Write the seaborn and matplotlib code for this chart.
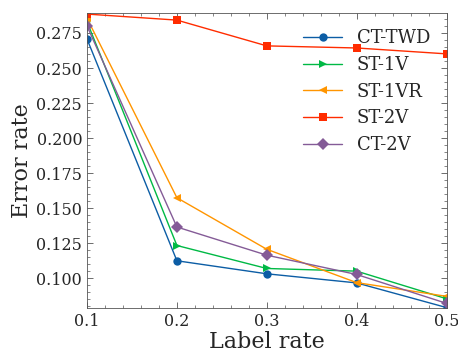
import numpy as np
import pandas as pd
import matplotlib
matplotlib.use("Agg")
import matplotlib.pyplot as plt
import seaborn as sns

label_rate = [0.1, 0.2, 0.3, 0.4, 0.5]
series_names = ["CT-TWD", "ST-1V", "ST-1VR", "ST-2V", "CT-2V"]
ct_twd = [0.2707, 0.1124, 0.1031, 0.0966, 0.0790]
st_1v = [0.2830, 0.1233, 0.1069, 0.1050, 0.0853]
st_1vr = [0.2855, 0.1574, 0.1206, 0.0968, 0.0870]
st_2v = [0.2885, 0.2842, 0.2658, 0.2643, 0.2601]
ct_2v = [0.2800, 0.1365, 0.1164, 0.1026, 0.0820]

colors = ["#0C5DA5", "#00B945", "#FF9500", "#FF2C00", "#845B97"]
markers = ["o", ">", "<", "s", "D"]

rows = []
for name, vals in zip(series_names, [ct_twd, st_1v, st_1vr, st_2v, ct_2v]):
    for x, y in zip(label_rate, vals):
        rows.append({"Label rate": x, "Error rate": y, "Method": name})
df = pd.DataFrame(rows)

sns.set_style("ticks")
plt.rcParams["font.family"] = ["DejaVu Serif"]
plt.rcParams["mathtext.fontset"] = "dejavuserif"

fig, ax = plt.subplots(figsize=(4.58, 3.54), dpi=100)
sns.lineplot(data=df, x="Label rate", y="Error rate", hue="Method", style="Method",
             hue_order=series_names, style_order=series_names,
             palette=colors, markers=markers, dashes=False,
             linewidth=1.0, markersize=6, markeredgewidth=0, ax=ax)

ax.set_xlim(0.1, 0.5)
ax.set_ylim(0.0787, 0.2892)
ax.set_xticks(label_rate)
ax.set_xticklabels(["0.1", "0.2", "0.3", "0.4", "0.5"])
ax.set_yticks([0.100, 0.125, 0.150, 0.175, 0.200, 0.225, 0.250, 0.275])
ax.minorticks_on()
ax.tick_params(which="both", direction="in", top=True, right=True, labelsize=11.5, color="#555555")
ax.tick_params(which="major", length=4, width=0.6)
ax.tick_params(which="minor", length=2, width=0.5)
for s in ax.spines.values():
    s.set_linewidth(0.6)
    s.set_color("#555555")
ax.set_xlabel("Label rate", fontsize=16, labelpad=1)
ax.set_ylabel("Error rate", fontsize=16, labelpad=2)
ax.legend(title=None, frameon=False, fontsize=13, loc="upper right",
          bbox_to_anchor=(1.0, 1.0), handlelength=2.2, labelspacing=0.48)
fig.subplots_adjust(left=0.19, right=0.975, top=0.963, bottom=0.13)
fig.savefig("out.png", dpi=100)
